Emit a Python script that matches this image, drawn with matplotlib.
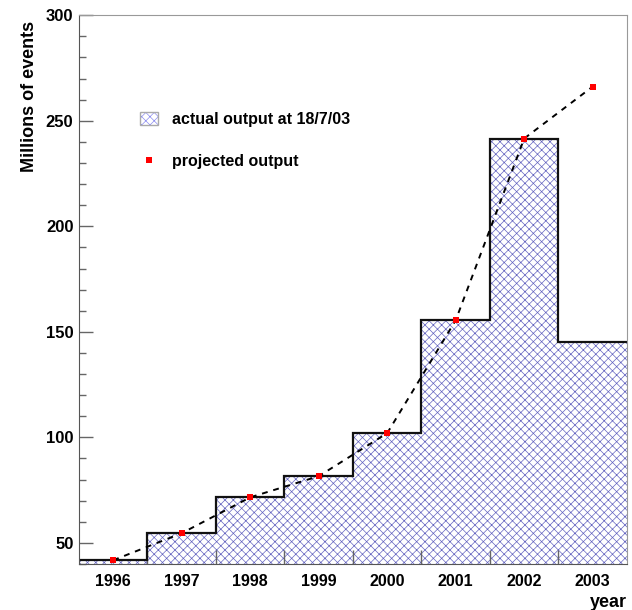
import numpy as np
import matplotlib

matplotlib.use("Agg")
import matplotlib.pyplot as plt
from matplotlib.patches import Patch
from matplotlib.lines import Line2D
from matplotlib.legend_handler import HandlerTuple

years = [1996, 1997, 1998, 1999, 2000, 2001, 2002, 2003]
actual = [41.8, 54.6, 71.6, 81.6, 102.0, 155.5, 241.6, 145.0]
projected = [41.8, 54.6, 71.6, 81.6, 102.0, 155.5, 241.6, 266.2]

HATCH_BLUE = "#6464c0"

plt.rcParams["font.family"] = ["Liberation Sans", "DejaVu Sans"]
plt.rcParams["font.weight"] = "bold"
plt.rcParams["hatch.linewidth"] = 0.5

fig = plt.figure(figsize=(6.32, 6.10), dpi=100)
ax = fig.add_axes([0.125, 0.0754, 0.867, 0.8996])

edges = np.arange(len(years) + 1) + years[0] - 0.5
ax.stairs(actual, edges, fill=True, baseline=0, facecolor="none",
          edgecolor=HATCH_BLUE, hatch="xxxx", linewidth=0, zorder=1)
ax.stairs(actual, edges, baseline=None, color="#111111", linewidth=1.6, zorder=2)

ax.plot(years, projected, color="black", linestyle=(0, (3, 3)), linewidth=1.4,
        zorder=3)
ax.plot(years, projected, linestyle="none", marker="s", markersize=5,
        color="red", markeredgewidth=0, zorder=4)

ax.set_xlim(edges[0], edges[-1])
ax.set_ylim(40, 300)

ax.set_xticks(edges[1:-1])
ax.set_xticklabels([])
ax.set_xticks(years, minor=True)
ax.set_xticklabels([str(y) for y in years], minor=True)
ax.tick_params(axis="x", which="major", direction="in", length=10,
               color="#666666", width=1)
ax.tick_params(axis="x", which="minor", length=0, pad=7, labelsize=11.5)

ax.set_yticks(np.arange(50, 301, 50))
ax.set_yticks(np.arange(40, 301, 10), minor=True)
ax.tick_params(axis="y", which="major", direction="in", length=10,
               color="#666666", width=1, labelsize=12, pad=4)
ax.tick_params(axis="y", which="minor", direction="in", length=5,
               color="#666666", width=1)

for side in ("left", "bottom"):
    ax.spines[side].set_color("#555555")
for side in ("top", "right"):
    ax.spines[side].set_color("#999999")
    ax.spines[side].set_linewidth(0.8)

ax.set_ylabel("Millions of events", fontsize=13, fontweight="bold", loc="top")
ax.yaxis.set_label_coords(-0.075, 0.99)
ax.set_xlabel("year", fontsize=13, fontweight="bold", loc="right")
ax.xaxis.set_label_coords(1.0, -0.055)

# hatched key with a thin grey frame drawn on top of it
hatch_key = (
    Patch(facecolor="none", edgecolor="#8c8cf0", hatch="xxxx", linewidth=0),
    Patch(facecolor="none", edgecolor="#aaaaaa", linewidth=1.0),
)
marker_key = Line2D([], [], linestyle="none", marker="s", markersize=5,
                    color="red", markeredgewidth=0)
ax.legend([hatch_key, marker_key], ["actual output at 18/7/03", "projected output"],
          handler_map={tuple: HandlerTuple(ndivide=1, pad=0)},
          loc="upper left", bbox_to_anchor=(0.085, 0.85), frameon=False,
          prop={"weight": "bold", "size": 11.5}, labelspacing=1.7,
          handlelength=1.1, handleheight=0.85, handletextpad=0.9)

fig.savefig("out.png", dpi=100)
